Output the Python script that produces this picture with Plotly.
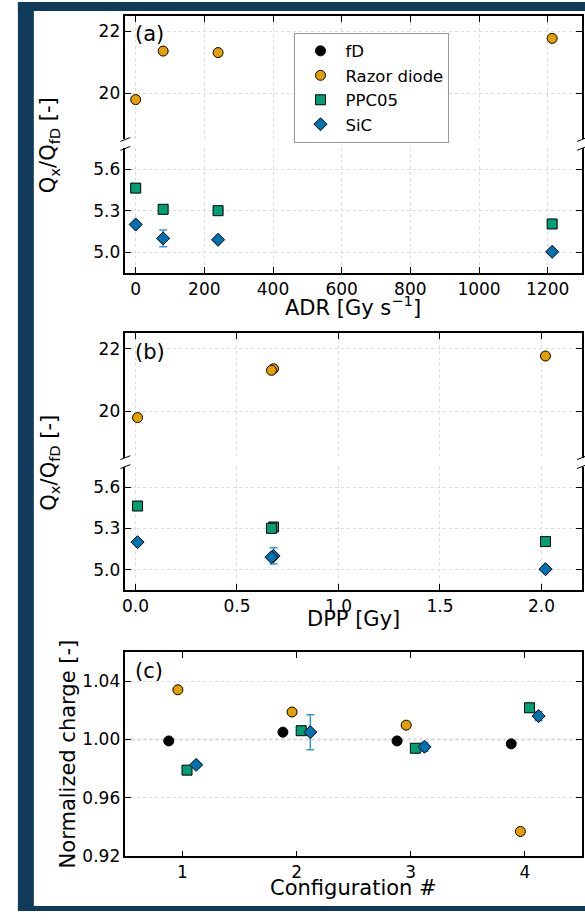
import plotly.graph_objects as go

# ---------------- data ----------------
config = [1, 2, 3, 4]
adr = [0.1, 80, 240, 1213]          # Gy/s
dpp = [0.01, 0.68, 0.67, 2.02]      # Gy

razor_ratio = [19.79, 21.36, 21.31, 21.77]
ppc05_ratio = [5.463, 5.31, 5.30, 5.204]
sic_ratio = [5.20, 5.10, 5.09, 5.003]
sic_ratio_err = [0.0, 0.06, 0.0, 0.0]

fd_norm = [0.999, 1.005, 0.999, 0.997]
razor_norm = [1.034, 1.0188, 1.0098, 0.937]
ppc05_norm = [0.979, 1.006, 0.994, 1.0217]
sic_norm = [0.9826, 1.005, 0.995, 1.016]
sic_norm_err = [0.001, 0.012, 0.003, 0.003]

group_offsets = [-0.12, -0.04, 0.04, 0.12]   # fD, Razor, PPC05, SiC
reference_level = 1.0

adr_ticks = [0, 200, 400, 600, 800, 1000, 1200]
dpp_ticks = [0.0, 0.5, 1.0, 1.5, 2.0]
ratio_hi_ticks = [20, 22]
ratio_lo_ticks = [5.0, 5.3, 5.6]
norm_ticks = [0.92, 0.96, 1.00, 1.04]

# ---------------- style ----------------
W, H = 585, 921
FONT = "DejaVu Sans"
C_FD = "black"
C_RAZOR = "#E69F00"
C_PPC = "#009E73"
C_SIC = "#0072B2"
C_ERR = "#3a95d4"
FRAME = "#103A5A"
GRID = "#dcdcdc"
TICK_SIZE = 17
TITLE_SIZE = 21


def px(p):
    return p / W


def py(p):
    return 1 - p / H


xdom = [px(123), px(582)]


def mk(symbol, color, size=10):
    return dict(symbol=symbol, color=color, size=size,
                line=dict(color="black", width=1))


fig = go.Figure()

# ---- panel (a) ----
fig.add_trace(go.Scatter(x=adr, y=razor_ratio, mode="markers", xaxis="x2", yaxis="y",
                         marker=mk("circle", C_RAZOR), showlegend=False))
fig.add_trace(go.Scatter(x=adr, y=ppc05_ratio, mode="markers", xaxis="x", yaxis="y2",
                         marker=mk("square", C_PPC), showlegend=False))
fig.add_trace(go.Scatter(x=adr, y=sic_ratio, mode="markers", xaxis="x", yaxis="y2",
                         marker=mk("diamond", C_SIC),
                         error_y=dict(type="data", array=sic_ratio_err, color=C_ERR,
                                      thickness=1.5, width=4),
                         showlegend=False))

# ---- panel (b) ----
fig.add_trace(go.Scatter(x=dpp, y=razor_ratio, mode="markers", xaxis="x4", yaxis="y3",
                         marker=mk("circle", C_RAZOR), showlegend=False))
fig.add_trace(go.Scatter(x=dpp, y=ppc05_ratio, mode="markers", xaxis="x3", yaxis="y4",
                         marker=mk("square", C_PPC), showlegend=False))
fig.add_trace(go.Scatter(x=dpp, y=sic_ratio, mode="markers", xaxis="x3", yaxis="y4",
                         marker=mk("diamond", C_SIC),
                         error_y=dict(type="data", array=sic_ratio_err, color=C_ERR,
                                      thickness=1.5, width=4),
                         showlegend=False))

# ---- panel (c) ----
series_c = [
    ("fD", fd_norm, "circle", C_FD, None),
    ("Razor diode", razor_norm, "circle", C_RAZOR, None),
    ("PPC05", ppc05_norm, "square", C_PPC, None),
    ("SiC", sic_norm, "diamond", C_SIC, sic_norm_err),
]
for i, (name, vals, sym, col, err) in enumerate(series_c):
    xs = [c + group_offsets[i] for c in config]
    kw = {}
    if err is not None:
        kw["error_y"] = dict(type="data", array=err, color=C_ERR, thickness=1.5, width=4)
    fig.add_trace(go.Scatter(x=xs, y=vals, mode="markers", name=name,
                             xaxis="x5", yaxis="y5", marker=mk(sym, col),
                             legendrank=i + 1, **kw))

axis_common = dict(
    showline=True, linecolor="black", linewidth=1.5,
    ticks="inside", ticklen=6, tickwidth=1, tickcolor="black",
    tickfont=dict(family=FONT, size=TICK_SIZE, color="black"),
    zeroline=False, gridcolor=GRID, griddash="dot", gridwidth=1,
)

layout_axes = dict(
    # (a)
    xaxis=dict(domain=xdom, anchor="y2", range=[-30, 1300], tickvals=adr_ticks,
               showgrid=True, **axis_common),
    xaxis2=dict(domain=xdom, anchor="y", side="top", range=[-30, 1300], matches="x",
                tickvals=adr_ticks, showticklabels=False, showgrid=True, **axis_common),
    yaxis=dict(domain=[py(141), py(16)], anchor="x2", range=[18.5, 22.5],
               tickvals=ratio_hi_ticks, mirror="ticks", showgrid=True, **axis_common),
    yaxis2=dict(domain=[py(276), py(150)], anchor="x", range=[4.85, 5.75],
                tickvals=ratio_lo_ticks, tickformat=".1f", mirror="ticks",
                showgrid=True, **axis_common),
    # (b)
    xaxis3=dict(domain=xdom, anchor="y4", range=[-0.05, 2.2], tickvals=dpp_ticks,
                tickformat=".1f", showgrid=True, **axis_common),
    xaxis4=dict(domain=xdom, anchor="y3", side="top", range=[-0.05, 2.2], matches="x3",
                tickvals=dpp_ticks, showticklabels=False, showgrid=True, **axis_common),
    yaxis3=dict(domain=[py(462.7), py(337)], anchor="x4", range=[18.5, 22.5],
                tickvals=ratio_hi_ticks, mirror="ticks", showgrid=True, **axis_common),
    yaxis4=dict(domain=[py(596.7), py(471.7)], anchor="x3", range=[4.85, 5.75],
                tickvals=ratio_lo_ticks, tickformat=".1f", mirror="ticks",
                showgrid=True, **axis_common),
    # (c)
    xaxis5=dict(domain=xdom, anchor="y5", range=[0.5, 4.5], tickvals=config,
                mirror="ticks", showgrid=False, **axis_common),
    yaxis5=dict(domain=[py(865.7), py(659)], anchor="x5", range=[0.92, 1.06],
                tickvals=norm_ticks, tickformat=".2f", mirror="ticks",
                showgrid=True, **axis_common),
)

shapes = []
# frame
shapes.append(dict(type="rect", xref="paper", yref="paper", x0=px(15), x1=1.0,
                   y0=py(11), y1=py(2), fillcolor=FRAME, line=dict(width=0)))
shapes.append(dict(type="rect", xref="paper", yref="paper", x0=px(15), x1=px(31),
                   y0=0, y1=py(2), fillcolor=FRAME, line=dict(width=0)))
shapes.append(dict(type="rect", xref="paper", yref="paper", x0=px(15), x1=1.0,
                   y0=0, y1=py(916), fillcolor=FRAME, line=dict(width=0)))
# reference line in (c)
shapes.append(dict(type="line", xref="x5 domain", yref="y5", x0=0, x1=1,
                   y0=reference_level, y1=reference_level,
                   line=dict(color="#9a9a9a", width=1.5, dash="dot"), layer="below"))
# axis-break marks
for ytop, ybot in [(141, 150), (462.7, 471.7)]:
    for xs in (123, 582):
        for yy in (ytop, ybot):
            shapes.append(dict(type="line", xref="paper", yref="paper",
                               x0=px(xs - 5), y0=py(yy + 2), x1=px(xs + 5), y1=py(yy - 2),
                               line=dict(color="black", width=1)))

ann_font = dict(family=FONT, size=TITLE_SIZE, color="black")
annotations = [
    dict(text="(a)", x=px(131), y=py(34), xanchor="left", yanchor="middle"),
    dict(text="(b)", x=px(131), y=py(356), xanchor="left", yanchor="middle"),
    dict(text="(c)", x=px(131), y=py(678), xanchor="left", yanchor="middle"),
    dict(text="Q<sub>x</sub>/Q<sub>fD</sub> [-]", x=px(47), y=py(147), textangle=-90,
         xanchor="center", yanchor="middle"),
    dict(text="Q<sub>x</sub>/Q<sub>fD</sub> [-]", x=px(47), y=py(468), textangle=-90,
         xanchor="center", yanchor="middle"),
    dict(text="Normalized charge [-]", x=px(65), y=py(762), textangle=-90,
         xanchor="center", yanchor="middle"),
    dict(text="ADR [Gy s<sup>\u22121</sup>]", x=px(352), y=py(309),
         xanchor="center", yanchor="middle"),
    dict(text="DPP [Gy]", x=px(352), y=py(626), xanchor="center", yanchor="middle"),
    dict(text="Configuration #", x=px(352), y=py(898), xanchor="center", yanchor="middle"),
]
for a in annotations:
    a.update(xref="paper", yref="paper", showarrow=False, font=ann_font)

fig.update_layout(
    width=W, height=H,
    margin=dict(l=0, r=0, t=0, b=0),
    paper_bgcolor="white", plot_bgcolor="white",
    font=dict(family=FONT, size=TICK_SIZE, color="black"),
    legend=dict(x=px(293), y=py(33), xanchor="left", yanchor="top",
                bordercolor="#999999", borderwidth=1, bgcolor="white",
                font=dict(family=FONT, size=16.5, color="black"),
                itemwidth=40, tracegroupgap=0),
    shapes=shapes,
    annotations=annotations,
    **layout_axes,
)

post = ("var de=document.documentElement, b=document.body;"
        "[de,b].forEach(function(e){e.style.margin='0';e.style.padding='0';"
        "e.style.overflow='hidden';});"
        "var d=document.getElementById('{plot_id}');"
        "d.style.position='fixed';d.style.left='0px';d.style.top='0px';"
        "d.style.margin='0';")
fig.write_html("out.html", config={"displayModeBar": False}, post_script=post)
